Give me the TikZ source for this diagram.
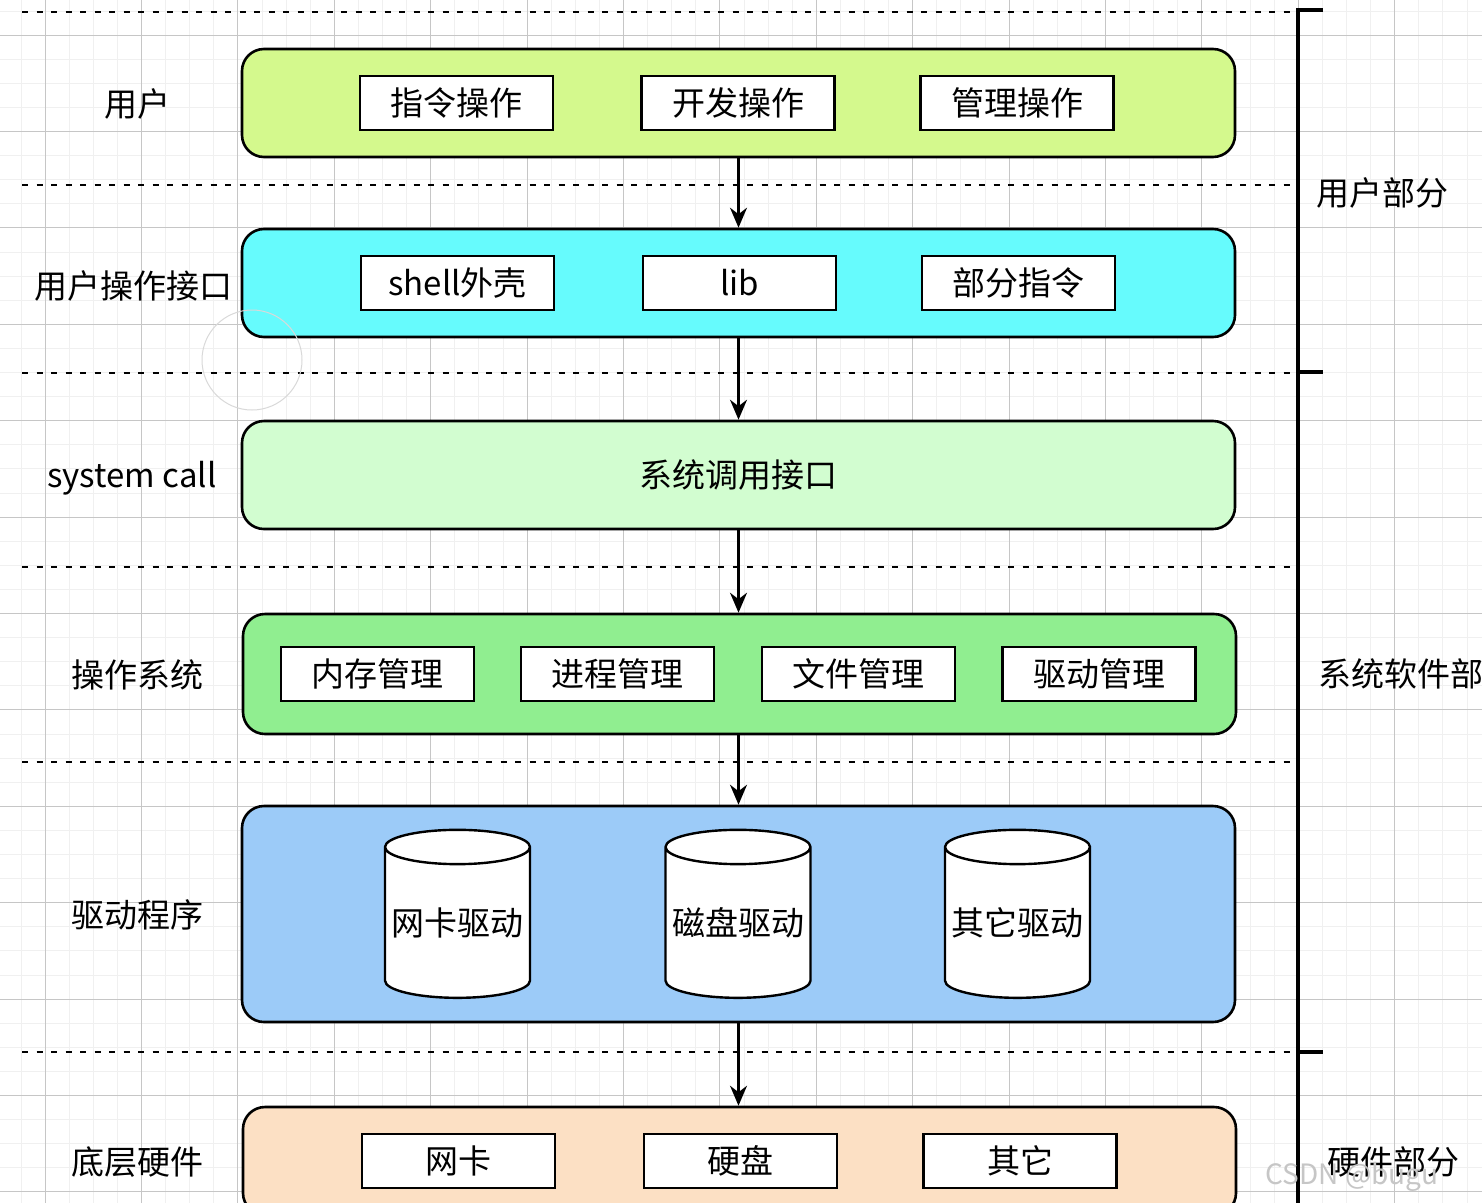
\documentclass[tikz,border=0pt]{standalone}
\usepackage{fontspec}
\setmainfont{Noto Sans CJK SC}
\usetikzlibrary{arrows.meta}
\usetikzlibrary{shapes.geometric}
\definecolor{usergreen}{HTML}{D4F98D}
\definecolor{shellcyan}{HTML}{66FBFD}
\definecolor{callgreen}{HTML}{D2FDD0}
\definecolor{osgreen}{HTML}{90EE90}
\definecolor{driverblue}{HTML}{9CCBF8}
\definecolor{hwpeach}{HTML}{FCE0C4}
\tikzset{layer/.style = {draw, line width=2.6pt, rounded corners=22pt,
                         minimum width=993pt, minimum height=108pt}}
\tikzset{item/.style = {draw, fill=white, line width=2.4pt, minimum width=193pt,
                        minimum height=54pt, inner sep=0,
                        font=\fontsize{33}{36}\selectfont}}
\tikzset{drum/.style = {draw, fill=white, cylinder, shape border rotate=90, aspect=0.26,
                        minimum width=145pt, minimum height=168pt, line width=2.4pt,
                        inner sep=0, font=\fontsize{33}{36}\selectfont}}
\tikzset{tag/.style = {inner sep=0, font=\fontsize{33}{36}\selectfont}}
\tikzset{flow/.style = {-{Stealth[length=20pt,width=17pt]}, line width=2.2pt}}
\tikzset{sep/.style = {line width=2.4pt, dash pattern=on 6pt off 8.5pt}}

\begin{document}
\begin{tikzpicture}[x=1pt, y=-1pt]
  \useasboundingbox (0,0) rectangle (1482,1202);
  \clip (0,0) rectangle (1482,1202);
  % background grid
  \fill[white] (0,0) rectangle (1482,1202);
  \draw[gray!12, line width=0.8pt, step=24.1pt, xshift=45pt, yshift=-35pt] (-100,-100) grid (1600,1300);
  \draw[gray!45, line width=1pt, step=96.4pt, xshift=45pt, yshift=-35pt] (-100,-100) grid (1600,1300);

  % separators
  \foreach \y in {12, 185, 373, 567, 762, 1052}
    \draw[sep] (22,\y) -- (1298,\y);

  % bracket on the right
  \draw[line width=4.5pt] (1323,10) -- (1298,10) -- (1298,1215);
  \draw[line width=4.5pt] (1298,372) -- (1323,372);
  \draw[line width=4.5pt] (1298,1052) -- (1323,1052);

  % left labels
  \node[tag] (lbuser) at (137,104) {用户};
  \node[tag] (lbshell) at (133,286) {用户操作接口};
  \node[tag] (lbcall) at (132,478) {system call};
  \node[tag] (lbos) at (137,675) {操作系统};
  \node[tag] (lbdrv) at (137,915) {驱动程序};
  \node[tag] (lbhw) at (137,1162) {底层硬件};

  % right labels
  \node[tag] (partuser) at (1382,193) {用户部分};
  \node[tag, anchor=west] (partsys) at (1318,674) {系统软件部分};
  \node[tag] (parthw) at (1393,1162) {硬件部分};

  % layers
  \node[layer, fill=usergreen] (user) at (738.5,103) {};
  \node[layer, fill=shellcyan] (shell) at (738.5,283) {};
  \node[layer, fill=callgreen, font=\fontsize{33}{36}\selectfont] (call) at (738.5,475) {系统调用接口};
  \node[layer, fill=osgreen, minimum height=120pt] (os) at (739.5,674) {};
  \node[layer, fill=driverblue, minimum height=216pt] (drv) at (738.5,914) {};
  \node[layer, fill=hwpeach] (hw) at (739.5,1161) {};

  % user
  \node[item] (cmd) at (456.5,103) {指令操作};
  \node[item] (dev) at (738,103) {开发操作};
  \node[item] (admin) at (1017,103) {管理操作};

  % user interface
  \node[item] (sh) at (457.5,283) {shell外壳};
  \node[item] (lib) at (739.5,283) {lib};
  \node[item] (part) at (1018.5,283) {部分指令};

  % operating system
  \node[item] (mem) at (377.5,674) {内存管理};
  \node[item] (proc) at (617.5,674) {进程管理};
  \node[item] (file) at (858.5,674) {文件管理};
  \node[item] (drvmgr) at (1099,674) {驱动管理};

  % drivers
  \node[drum] (nicdrv) at (457.5,923) {网卡驱动};
  \node[drum] (diskdrv) at (738,923) {磁盘驱动};
  \node[drum] (otherdrv) at (1017.5,923) {其它驱动};

  % hardware
  \node[item] (nic) at (458.5,1161) {网卡};
  \node[item] (disk) at (740.5,1161) {硬盘};
  \node[item] (other) at (1020,1161) {其它};

  % flow
  \draw[flow] (user.south) -- (shell.north);
  \draw[flow] (shell.south) -- (call.north);
  \draw[flow] (call.south) -- (call.south |- os.north);
  \draw[flow] (os.south -| call.south) -- (call.south |- drv.north);
  \draw[flow] (drv.south) -- (hw.north -| drv.south);

  % cursor ring and watermark
  \draw[gray!30, line width=1pt] (252,360) circle [radius=50];
  \node[tag, gray!45, font=\fontsize{28}{30}\selectfont] (mark) at (1352,1177) {CSDN @bugu};
\end{tikzpicture}
\end{document}
